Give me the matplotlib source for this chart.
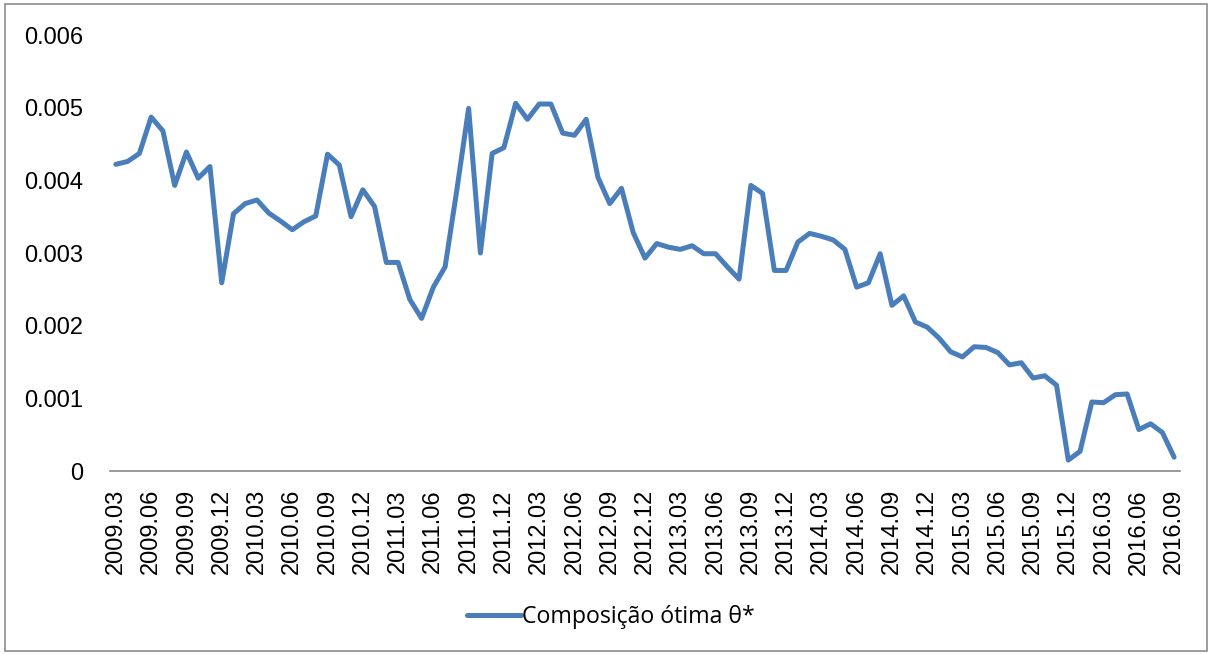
import matplotlib
matplotlib.use("Agg")
from matplotlib import pyplot as plt
from matplotlib.patches import Rectangle

# meses (2009.03 .. 2016.09)
anos = list(range(2009, 2017))
meses = []
for a in anos:
    for m in range(1, 13):
        if (a == 2009 and m < 3) or (a == 2016 and m > 9):
            continue
        meses.append('%d.%02d' % (a, m))

# composicao otima theta*
theta = [4.22, 4.26, 4.37, 4.87, 4.68, 3.93, 4.39, 4.03, 4.19, 2.59,
         3.54, 3.68, 3.73, 3.55, 3.44, 3.32, 3.43, 3.51, 4.36, 4.21,
         3.50, 3.87, 3.64, 2.87, 2.87, 2.36, 2.10, 2.53, 2.81, 3.87,
         4.99, 3.00, 4.37, 4.45, 5.06, 4.84, 5.05, 5.05, 4.65, 4.62,
         4.84, 4.04, 3.68, 3.89, 3.28, 2.93, 3.13, 3.08, 3.05, 3.10,
         2.99, 2.99, 2.81, 2.64, 3.93, 3.82, 2.76, 2.76, 3.15, 3.27,
         3.23, 3.18, 3.05, 2.53, 2.59, 2.99, 2.28, 2.41, 2.05, 1.98,
         1.83, 1.64, 1.57, 1.71, 1.70, 1.63, 1.46, 1.49, 1.28, 1.31,
         1.18, 0.15, 0.27, 0.95, 0.94, 1.05, 1.06, 0.57, 0.65, 0.53,
         0.19]
theta = [v / 1000 for v in theta]

yticks = [0, 0.001, 0.002, 0.003, 0.004, 0.005, 0.006]
ylabels = ['0', '0.001', '0.002', '0.003', '0.004', '0.005', '0.006']

W, H = 1210, 654
fig = plt.figure(figsize=(W / 100, H / 100), dpi=100)
ax = fig.add_axes([110 / W, 1 - 471 / H, 1070 / W, 436 / H])

x = list(range(len(meses)))
linha, = ax.plot(x, theta, color='#4A7EBB', lw=3.6, solid_joinstyle='round',
                 solid_capstyle='round')

ax.set_xlim(-0.5, len(meses) - 0.5)
ax.set_ylim(0, 0.006)
ax.set_yticks(yticks)
ax.set_yticklabels(ylabels, family='Liberation Sans', fontsize=17)
ax.set_xticks(x[::3])
ax.set_xticklabels(meses[::3], rotation=90, family='Liberation Sans', fontsize=17)
ax.tick_params(axis='both', length=0)
ax.tick_params(axis='y', pad=19)
ax.tick_params(axis='x', pad=13)

for s in ['top', 'right', 'left']:
    ax.spines[s].set_visible(False)
ax.spines['bottom'].set_color('#868686')
ax.spines['bottom'].set_linewidth(1.2)

# legenda
fig.legend([linha], ['Composição ótima θ*'], loc='center',
           bbox_to_anchor=(611 / W, 1 - 617 / H), frameon=False,
           prop={'family': ['Open Sans', 'DejaVu Sans'], 'size': 16.7},
           handlelength=2.35, handletextpad=0.05)

# moldura externa
fig.patches.append(Rectangle((5 / W, 1 - 651 / H), 1202 / W, 647 / H,
                             transform=fig.transFigure, fill=False,
                             edgecolor='#8C8C8C', lw=1.2))

fig.savefig('out.png', dpi=100)
